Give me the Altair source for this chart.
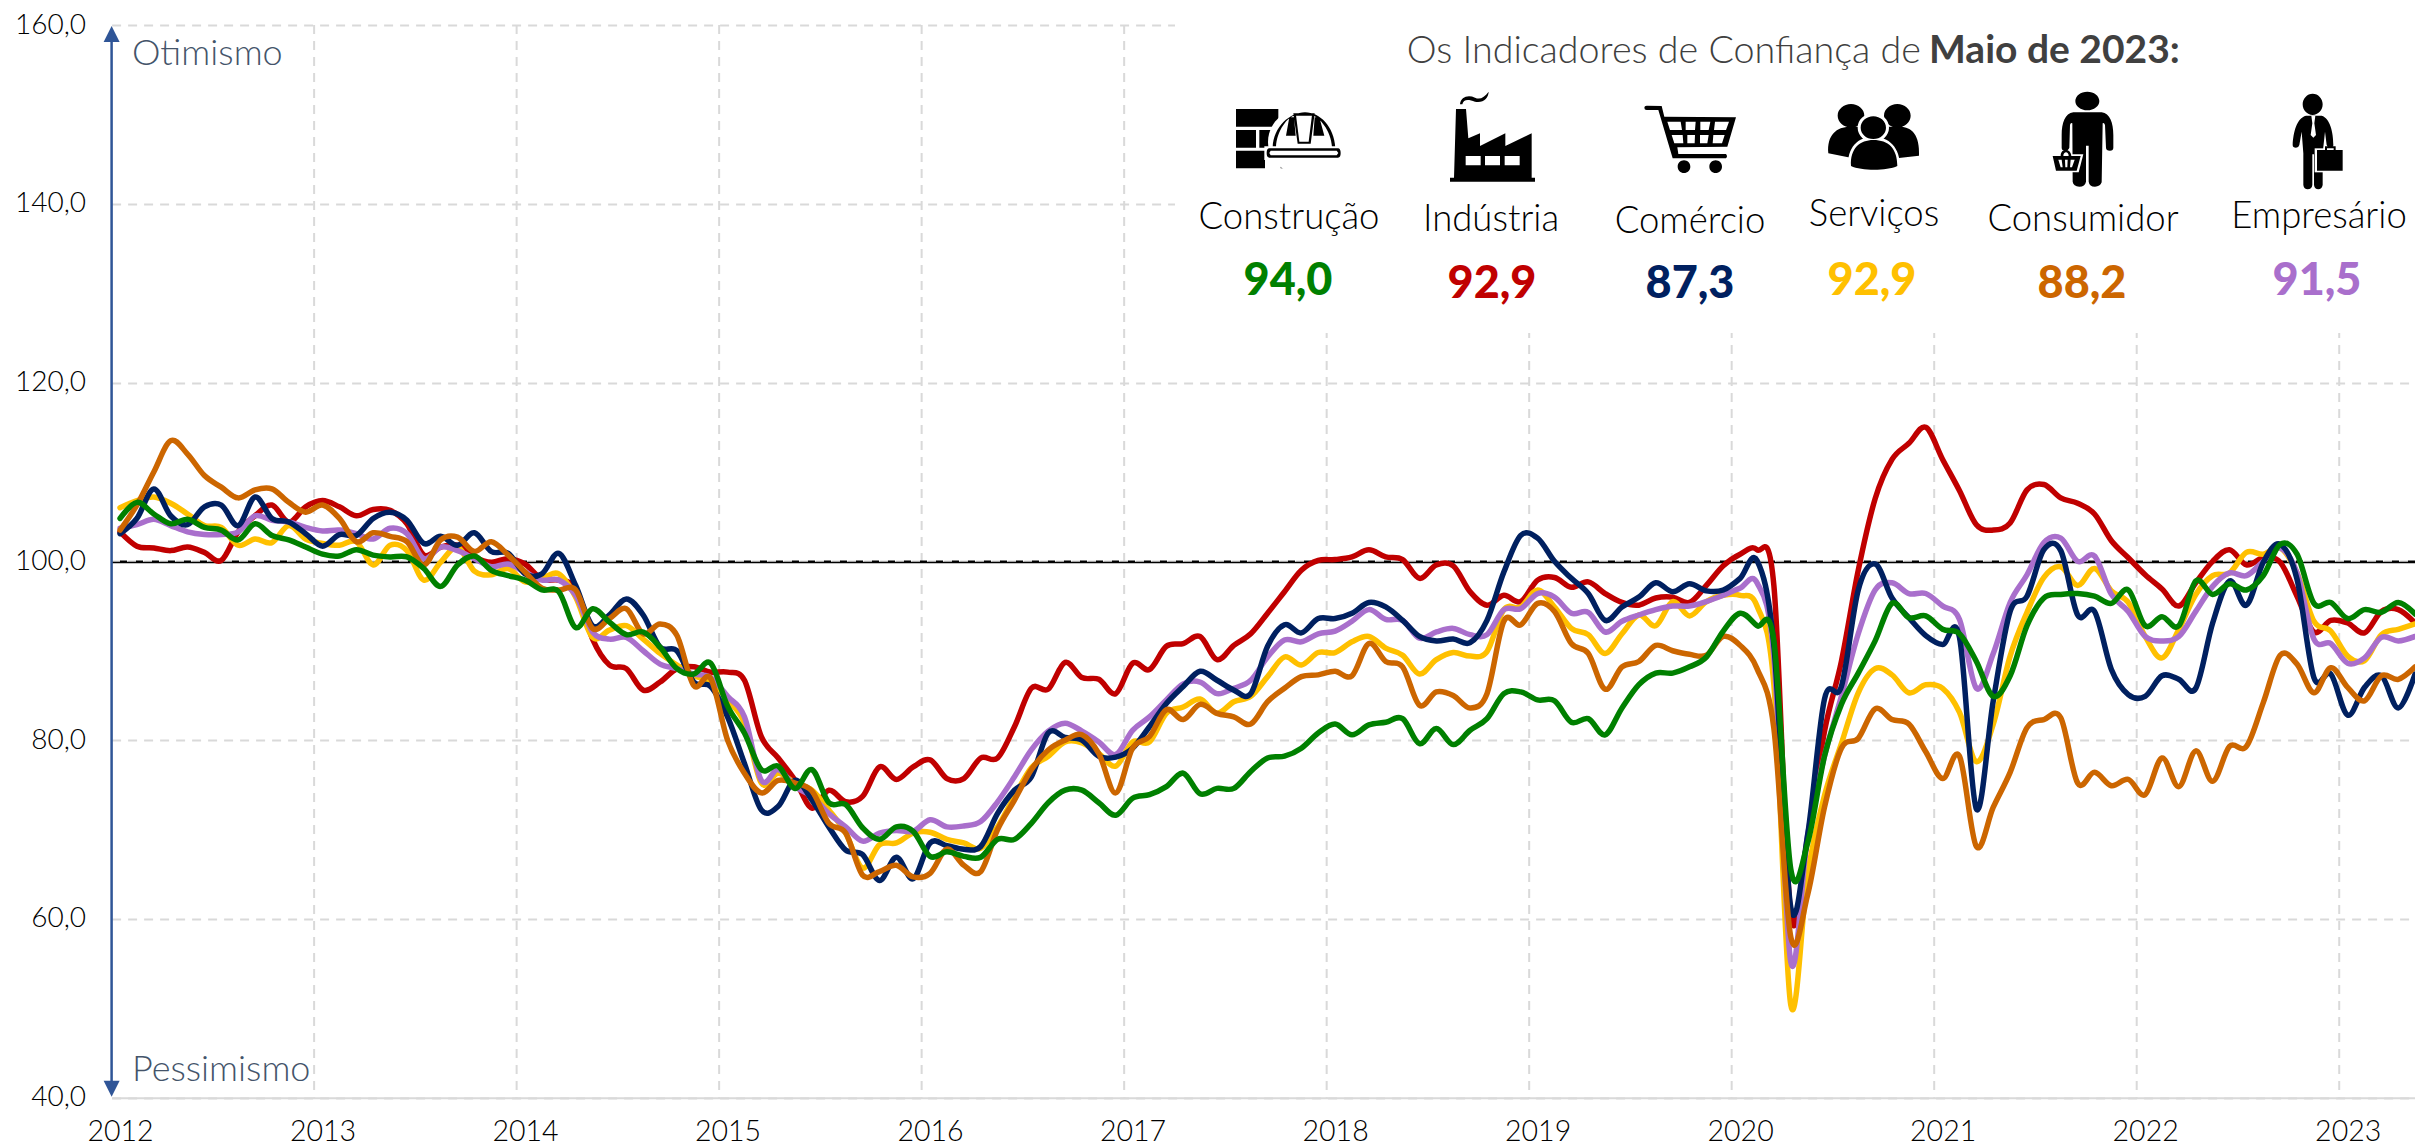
import altair as alt
import pandas as pd

# ---------- data: monthly index values, Jan 2012 .. May 2023 ----------
construcao = [
    104.8,106.6,105.3,104.2,104.7,103.8,103.5,102.4,104.2,102.9,102.4,101.6,
    100.8,100.6,101.3,100.7,100.5,100.5,99.2,97.2,99.6,100.6,99.0,98.4,
    97.9,96.8,96.6,92.6,94.7,93.2,91.8,92.1,90.4,88.0,87.4,
    88.6,83.8,80.8,76.7,77.1,74.6,76.7,73.0,72.8,70.2,68.9,70.3,69.8,67.0,67.5,67.0,66.9,68.9,68.9,70.7,73.0,74.4,74.4,73.0,71.6,
    73.5,73.9,74.8,76.3,74.0,74.6,74.6,76.5,78.0,78.2,79.1,80.8,81.8,80.6,81.7,82.0,82.4,79.6,81.3,79.5,81.1,82.4,85.2,85.4,84.5,84.4,82.0,82.4,80.6,83.6,86.2,
    87.5,87.5,88.2,89.3,92.2,94.2,92.8,91.1,65.6,68.5,78.2,84.0,87.5,91.1,95.3,93.7,93.9,92.4,91.9,88.8,84.9,
    87.2,92.8,95.9,96.3,96.4,96.1,95.3,96.8,92.8,93.8,92.8,97.8,96.3,97.5,96.8,98.4,101.9,100.8,95.3,95.4,93.6,94.6,94.3,95.4,94.1]
industria = [
    103.3,101.7,101.5,101.2,101.6,101.0,100.1,103.3,105.1,106.3,104.4,106.1,
    106.8,106.1,105.1,105.8,105.7,104.2,100.7,101.6,101.8,100.5,99.9,100.3,
    99.7,98.0,97.9,96.9,91.3,88.4,88.0,85.6,86.5,88.0,88.2,
    87.6,87.6,86.7,80.4,78.0,75.5,72.4,74.4,73.1,73.7,77.0,75.6,77.0,77.8,75.7,75.7,78.0,78.0,81.5,85.8,85.7,88.7,87.0,86.8,85.2,
    88.6,87.9,90.5,90.8,91.6,89.0,90.6,91.9,94.2,96.6,99.0,100.1,100.2,100.5,101.3,100.5,100.2,98.1,99.6,99.5,96.6,95.1,96.2,95.5,97.9,98.2,97.1,97.7,96.4,95.4,95.1,
    95.9,96.0,95.4,97.3,99.5,100.8,101.3,97.3,60.5,69.0,81.0,88.8,99.0,107.0,111.4,113.2,115.0,111.4,107.9,104.1,103.5,
    104.3,108.0,108.6,107.1,106.5,105.3,102.3,100.4,98.5,96.9,95.0,97.6,100.0,101.3,99.6,100.4,99.9,96.1,92.1,93.4,93.1,92.0,94.4,94.6,93.1]
comercio = [
    103.1,104.8,108.1,105.1,104.1,106.1,106.3,104.0,107.2,104.8,104.4,103.1,
    101.7,103.0,102.9,104.8,105.5,104.6,102.0,102.8,101.8,103.2,101.1,100.9,
    98.6,98.6,100.9,97.3,92.8,94.0,95.8,94.0,90.4,90.0,86.5,
    86.0,82.6,77.4,72.2,72.6,75.5,73.3,70.3,67.7,67.2,64.3,66.9,64.5,68.5,68.2,67.8,68.1,71.8,74.4,75.9,80.8,80.3,80.0,78.2,78.1,
    79.1,81.5,84.1,86.0,87.7,86.7,85.6,85.2,90.5,92.9,92.0,93.6,93.6,94.2,95.4,94.9,93.4,91.6,91.1,91.3,90.9,93.4,98.8,102.9,102.6,100.0,98.1,96.4,93.4,94.9,96.0,
    97.6,96.6,97.5,96.7,96.8,98.1,100.1,90.6,61.3,69.4,84.6,86.0,96.8,99.7,95.9,93.7,91.7,90.7,91.5,72.3,84.4,
    94.4,96.1,101.3,101.2,94.0,94.4,87.9,85.1,84.9,87.2,86.8,85.8,93.1,97.8,95.1,99.9,101.9,98.0,87.0,87.4,82.8,85.9,87.2,83.6,87.4]
servicos = [
    106.0,106.8,107.2,106.5,105.3,104.0,103.8,101.8,102.5,102.1,104.0,102.5,
    102.0,101.8,102.2,99.6,101.8,101.2,97.9,99.9,101.6,98.9,98.5,99.2,
    97.7,98.1,98.6,96.0,91.5,92.3,92.8,91.3,89.7,88.4,87.2,
    86.6,84.5,81.9,75.2,76.3,75.2,74.4,72.2,69.6,65.7,68.3,68.5,69.6,69.7,68.9,68.5,67.9,70.3,73.7,76.9,78.2,79.8,79.7,78.5,77.1,
    79.8,79.8,83.0,83.7,84.6,83.0,84.3,84.9,87.1,89.3,88.4,89.8,89.8,91.0,91.6,90.3,89.5,87.4,89.0,89.8,89.4,89.9,94.6,94.9,96.8,94.9,92.5,91.8,89.7,91.9,94.0,
    92.8,95.5,93.9,95.5,96.2,96.2,95.0,86.2,50.4,65.0,73.8,79.6,85.3,88.0,87.3,85.3,86.2,85.8,83.1,77.6,81.8,
    89.4,94.3,98.2,99.4,97.3,99.2,96.7,95.4,91.6,89.2,92.4,96.3,98.4,98.7,101.0,100.8,101.5,98.7,93.3,92.2,89.4,88.9,91.8,92.4,93.0]
consumidor = [
    103.5,106.3,110.0,113.5,112.0,109.6,108.3,107.1,108.0,108.1,106.6,105.5,
    106.3,104.8,102.2,103.2,102.8,102.2,99.6,102.4,102.7,101.1,102.2,100.7,
    98.8,97.0,96.8,96.8,92.5,93.6,94.7,91.9,93.0,91.7,86.1,
    86.9,80.0,76.3,74.1,75.5,75.2,74.3,70.7,69.6,64.9,65.3,66.0,64.7,65.1,67.8,66.0,65.3,70.0,73.3,76.7,78.9,80.0,80.6,78.5,74.1,
    79.1,80.4,83.4,82.3,84.0,83.0,82.6,81.8,84.3,85.8,87.1,87.3,87.7,87.2,90.8,88.8,88.2,83.9,85.4,85.0,83.6,85.2,93.3,92.9,95.3,94.4,90.8,89.7,85.7,88.2,88.8,
    90.6,90.0,89.6,89.5,91.6,90.6,88.0,81.3,58.0,62.7,72.5,79.1,80.2,83.5,82.3,81.8,78.7,75.7,78.2,68.1,72.5,
    76.4,81.4,82.3,82.5,75.2,76.4,74.9,75.6,73.9,78.0,74.8,78.8,75.4,79.3,79.3,84.2,89.5,88.5,85.3,88.1,85.9,84.4,87.2,86.8,88.2]
empresario = [
    103.7,104.1,104.7,104.0,103.3,103.0,103.0,103.3,105.1,104.6,104.4,103.8,
    103.4,103.5,103.1,102.5,103.7,103.1,100.3,101.6,101.2,100.3,99.4,99.7,
    98.8,97.9,97.9,96.2,92.1,91.3,91.5,90.0,88.5,88.0,87.4,
    87.0,84.9,82.6,75.5,76.7,74.8,73.7,71.8,70.3,68.7,69.6,69.9,69.8,71.1,70.3,70.4,70.9,73.1,75.9,78.9,81.0,81.9,81.0,79.8,78.4,
    81.1,82.6,84.5,86.3,86.5,85.2,85.8,86.7,89.3,91.2,91.0,91.9,92.2,93.3,94.6,93.5,93.4,91.4,92.1,92.5,91.8,91.8,94.6,94.7,96.4,96.0,94.2,94.3,92.1,93.3,94.0,
    94.6,95.0,95.0,95.5,96.2,97.0,97.6,89.3,55.2,69.4,78.2,84.9,91.9,96.8,97.6,96.4,96.4,95.0,93.5,85.8,89.7,
    95.4,98.5,102.1,102.6,100.0,100.6,96.3,94.4,91.6,91.1,91.6,94.4,97.2,98.7,98.4,100.0,101.5,98.7,91.3,90.8,88.6,89.2,91.5,91.1,91.6]

YEARS = list(range(2012, 2024))
Y_TICKS = [40, 60, 80, 100, 120, 140, 160]
NAMES = ["Construção", "Indústria", "Comércio", "Serviços", "Consumidor", "Empresário"]
HEADLINE = ["94,0", "92,9", "87,3", "92,9", "88,2", "91,5"]

# ---------- layout and style ----------
GREEN, RED, NAVY, YELLOW, ORANGE, PURPLE = "#008000", "#C00000", "#002060", "#FFC000", "#CC6600", "#A96FCC"
COLORS = [GREEN, RED, NAVY, YELLOW, ORANGE, PURPLE]
FONT = "Lato"
LEFT, TOP, BOTTOM = 111.6, 25.0, 1097.7
FULL_RIGHT = 2423.6     # where the last month's band ends
SVG_RIGHT = 2415.0      # the svg itself stops inside the page so that it doesn't overflow it
SVG_BOTTOM = 1148.0
W_FULL, H = FULL_RIGHT - LEFT, BOTTOM - TOP
GRID = "#D9D9D9"
AXIS_BLUE = "#2F5597"
N = len(construcao)

def px(v): return alt.value(v - LEFT)
def py(v): return alt.value(v - TOP)

x_scale = alt.Scale(domain=[-0.5, N - 0.5], range=[0, W_FULL], nice=False, zero=False)
y_scale = alt.Scale(domain=[40, 160], nice=False, zero=False)
one = pd.DataFrame({"a": [0]})

x_axis = alt.Axis(
    values=[(y - YEARS[0]) * 12 for y in YEARS],
    labelExpr=f"{YEARS[0]} + datum.value / 12",
    grid=False, ticks=False, domainColor=GRID, domainWidth=2,
    labelFont=FONT, labelFontSize=28.5, labelFontWeight=300, labelColor="#000000",
    labelPadding=20, labelFlush=False, labelOverlap=False)
y_axis = alt.Axis(
    values=Y_TICKS,
    labelExpr="replace(format(datum.value, '.1f'), '.', ',')",
    grid=True, gridColor=GRID, gridDash=[9, 7], gridWidth=2,
    ticks=False, domain=False,
    labelFont=FONT, labelFontSize=28, labelFontWeight=300, labelColor="#000000",
    labelPadding=26, labelOverlap=False)

def X(field): return alt.X(field, scale=x_scale, title=None, axis=x_axis)
def Y(field): return alt.Y(field, scale=y_scale, title=None, axis=y_axis)

vgrid = alt.Chart(pd.DataFrame({"b": [(y - YEARS[0]) * 12 - 0.5 for y in YEARS[1:]]})).mark_rule(
    color=GRID, strokeDash=[9, 7], strokeWidth=2).encode(x=X("b:Q"))

white_box = alt.Chart(one).mark_rect(color="white").encode(
    x=px(1175), x2=px(SVG_RIGHT), y=py(0), y2=py(333))

ref_dash = alt.Chart(pd.DataFrame({"r": [100]})).mark_rule(
    color="#000000", strokeWidth=1.5, strokeDash=[7, 9]).encode(y=Y("r:Q"))
ref_solid = alt.Chart(pd.DataFrame({"r": [99.87]})).mark_rule(
    color="#000000", strokeWidth=1.5).encode(y=Y("r:Q"))

def series(values, color):
    df = pd.DataFrame({"i": list(range(len(values))), "v": values})
    return alt.Chart(df).mark_line(
        color=color, strokeWidth=5.5, interpolate="cardinal", tension=0, strokeCap="round", strokeJoin="round"
    ).encode(x=X("i:Q"), y=Y("v:Q"))

lines = [series(v, c) for v, c in [
    (industria, RED), (servicos, YELLOW), (empresario, PURPLE),
    (comercio, NAVY), (consumidor, ORANGE), (construcao, GREEN)]]

# blue optimism/pessimism arrow
arrow_line = alt.Chart(one).mark_rule(color=AXIS_BLUE, strokeWidth=2.5).encode(
    x=px(LEFT), y=py(TOP + 10), y2=py(BOTTOM - 10))
TRI_UP = "M0,0 L1,2 L-1,2 Z"
TRI_DOWN = "M0,0 L1,-2 L-1,-2 Z"
arrow_up = alt.Chart(one).mark_point(shape=TRI_UP, size=256, filled=True, color=AXIS_BLUE, opacity=1, strokeWidth=0).encode(
    x=px(LEFT), y=py(TOP + 1))
arrow_down = alt.Chart(one).mark_point(shape=TRI_DOWN, size=256, filled=True, color=AXIS_BLUE, opacity=1, strokeWidth=0).encode(
    x=px(LEFT), y=py(BOTTOM - 1))

def text(s, x, y, size, color, weight=300, align="center", baseline="middle"):
    return alt.Chart(pd.DataFrame({"t": [s]})).mark_text(
        font=FONT, fontSize=size, color=color, fontWeight=weight, align=align, baseline=baseline
    ).encode(x=px(x), y=py(y), text="t:N")

annotations = [
    text("Otimismo", 132, 65, 36, "#44546A", align="left", baseline="alphabetic"),
    text("Pessimismo", 132, 1081, 36, "#44546A", align="left", baseline="alphabetic"),
    text("Os Indicadores de Confiança de", 1921, 63, 37.7, "#404040", align="right", baseline="alphabetic"),
    text("Maio de 2023:", 1929, 63, 39, "#404040", weight=700, align="left", baseline="alphabetic"),
]
NAME_POS = [(1289, 218), (1491, 220), (1690, 222), (1874, 215), (2083, 220), (2319, 217)]
VALUE_POS = [(1288, 281), (1492, 284), (1690, 284), (1872, 281), (2082, 284), (2317, 281)]
for name, (x, y) in zip(NAMES, NAME_POS):
    annotations.append(text(name, x, y, 36.5, "#000000"))
for val, col, (x, y) in zip(HEADLINE, COLORS, VALUE_POS):
    annotations.append(text(val, x, y, 45, col, weight=900))

# ---------- icons: path coordinates are at 3x around each icon's origin ----------
def icon(path, ox, oy, color="#000000"):
    return alt.Chart(one).mark_point(shape=path, size=4 / 9, filled=True, color=color, opacity=1, strokeWidth=0).encode(
        x=px(ox), y=py(oy))

def rect(a, b, c, d): return f"M{a},{b} L{c},{b} L{c},{d} L{a},{d} Z "
def hole(a, b, c, d): return f"M{a},{b} L{a},{d} L{c},{d} L{c},{b} Z "
def ell(cx, cy, rx, ry):
    return f"M{cx-rx},{cy} A{rx},{ry} 0 1,1 {cx+rx},{cy} A{rx},{ry} 0 1,1 {cx-rx},{cy} Z "

O1 = (1230, 85)
BRICKS = (rect(18, 72, 145, 125) + rect(18, 135, 78, 188) + rect(88, 135, 125, 188)
          + rect(18, 197, 105, 250) + rect(152, 228, 285, 250))
BRICK_CUT = ell(222, 170, 108, 100)
HELMET = ("M128,188 C130,125 180,82 225,82 C270,82 312,125 316,188 Z "
          "M306,186 C304,135 265,95 250,92 L192,92 C175,95 140,135 138,186 Z "
          "M190,85 L254,85 L242,176 L203,176 Z M198,90 L208,170 L236,170 L246,90 Z "
          "M178,97 L192,97 L197,152 L168,152 Z M254,97 L268,97 L283,152 L250,152 Z ")
BRIM_WHITE = rect(103, 184, 340, 225)
BRIM = ("M118,190 L324,190 Q332,190 332,204 Q332,218 324,218 L118,218 Q110,218 110,204 Q110,190 118,190 Z "
        "M122,197 L118,204 L122,211 L320,211 L325,204 L320,197 Z ")

FACTORY = ("M678,72 L708,72 L715,160 L750,145 L750,183 L826,145 L826,183 L905,145 L905,278 L915,278 L915,290 "
           "L660,290 L660,278 L672,278 Z "
           + hole(707, 213, 752, 241) + hole(765, 213, 810, 241) + hole(824, 213, 869, 241)
           + "M690,58 C692,35 715,28 735,38 C750,45 762,38 776,20 C775,40 760,55 735,50 C715,42 700,42 697,58 Z ")

CART = ("M1243,68 Q1243,62 1250,62 L1295,63 L1303,95 L1518,97 L1492,185 L1342,187 L1345,207 L1488,207 "
        "Q1494,214 1488,220 L1328,220 L1285,75 L1250,75 Q1243,75 1243,68 Z "
        "M1312,110 L1320,135 L1356,135 L1352,110 Z M1367,110 L1367,135 L1395,135 L1397,110 Z "
        "M1411,110 L1411,135 L1436,135 L1441,110 Z M1455,110 L1452,135 L1488,135 L1497,110 Z "
        "M1325,150 L1333,175 L1360,175 L1358,150 Z M1372,150 L1372,175 L1394,175 L1395,150 Z "
        "M1410,150 L1410,175 L1432,175 L1436,150 Z M1450,150 L1448,175 L1476,175 L1484,150 Z "
        + ell(1362, 245, 19, 19) + ell(1457, 245, 19, 19))

O2 = (1820, 85)
PEOPLE_BACK = (ell(93, 92, 40, 35) + ell(232, 92, 40, 35)
               + "M25,205 C20,150 50,125 90,125 L240,125 C275,125 300,150 297,212 L230,220 L92,218 Z ")
PEOPLE_HALO = ell(160, 128, 47, 43) + "M84,250 C80,185 115,155 160,155 C205,155 242,185 240,250 Z "
PEOPLE_FRONT = (ell(160, 128, 38, 34)
                + "M93,243 C90,190 120,165 160,165 C205,165 232,190 232,243 C200,258 125,258 93,243 Z ")

CONSUMER = (ell(802, 48, 36, 28)
            + "M760,82 L845,82 C870,84 880,115 880,150 L880,188 Q880,197 870,197 Q858,197 858,188 L855,120 "
              "Q852,112 848,115 L845,292 Q840,305 825,305 Q808,305 806,290 L806,182 L798,182 L798,290 "
              "Q795,305 778,305 Q760,303 758,290 L757,115 Q752,112 750,120 L748,188 Q745,197 735,197 "
              "Q725,197 725,188 L725,150 C725,115 735,84 760,82 Z ")
BASKET_HALO = "M692,208 L790,208 L776,262 L704,262 Z "
BASKET = ("M698,213 L782,213 L770,257 L708,257 Z "
          "M715,224 L722,247 L728,247 L725,224 Z M735,224 L736,247 L742,247 L743,224 Z "
          "M752,224 L750,247 L756,247 L764,224 Z "
          "M722,213 C722,188 752,188 754,213 L746,213 C746,198 730,198 730,213 Z ")

BUSINESS = (ell(1478, 58, 30, 32)
            + "M1458,92 L1505,92 C1530,100 1540,140 1540,180 Q1540,188 1530,188 Q1522,188 1520,180 L1515,140 "
              "L1508,205 L1508,300 Q1505,313 1495,313 Q1484,313 1482,300 L1482,208 L1477,208 L1477,300 "
              "Q1475,313 1463,313 Q1452,313 1450,300 L1450,205 L1445,140 L1438,180 Q1436,188 1428,188 "
              "Q1418,188 1418,180 C1420,140 1430,100 1458,92 Z ")
TIE = "M1474,92 L1486,92 L1483,115 L1488,150 L1480,158 L1472,150 L1477,115 Z "
CASE_HALO = rect(1484, 190, 1574, 262)
CASE = rect(1491, 195, 1568, 257) + "M1515,195 L1515,184 L1547,184 L1547,195 L1541,195 L1541,190 L1521,190 L1521,195 Z "

icons = [
    icon(BRICKS, *O1), icon(BRICK_CUT, *O1, color="white"), icon(HELMET, *O1),
    icon(BRIM_WHITE, *O1, color="white"), icon(BRIM, *O1),
    icon(FACTORY, *O1), icon(CART, *O1),
    icon(PEOPLE_BACK, *O2), icon(PEOPLE_HALO, *O2, color="white"), icon(PEOPLE_FRONT, *O2),
    icon(CONSUMER, *O2), icon(BASKET_HALO, *O2, color="white"), icon(BASKET, *O2),
    icon(BUSINESS, *O2), icon(TIE, *O2, color="white"), icon(CASE_HALO, *O2, color="white"), icon(CASE, *O2),
]

chart = alt.layer(
    vgrid, white_box, ref_dash, ref_solid, *lines,
    arrow_line, arrow_up, arrow_down, *annotations, *icons
).resolve_scale(x="shared", y="shared").properties(
    width=SVG_RIGHT - LEFT, height=H,
    autosize=alt.AutoSizeParams(type="none"),
    padding={"left": LEFT - 8, "top": TOP - 8, "right": 0, "bottom": SVG_BOTTOM - BOTTOM},
).configure_view(stroke=None)

chart.save("out.html", embed_options={"renderer": "svg", "actions": False})
